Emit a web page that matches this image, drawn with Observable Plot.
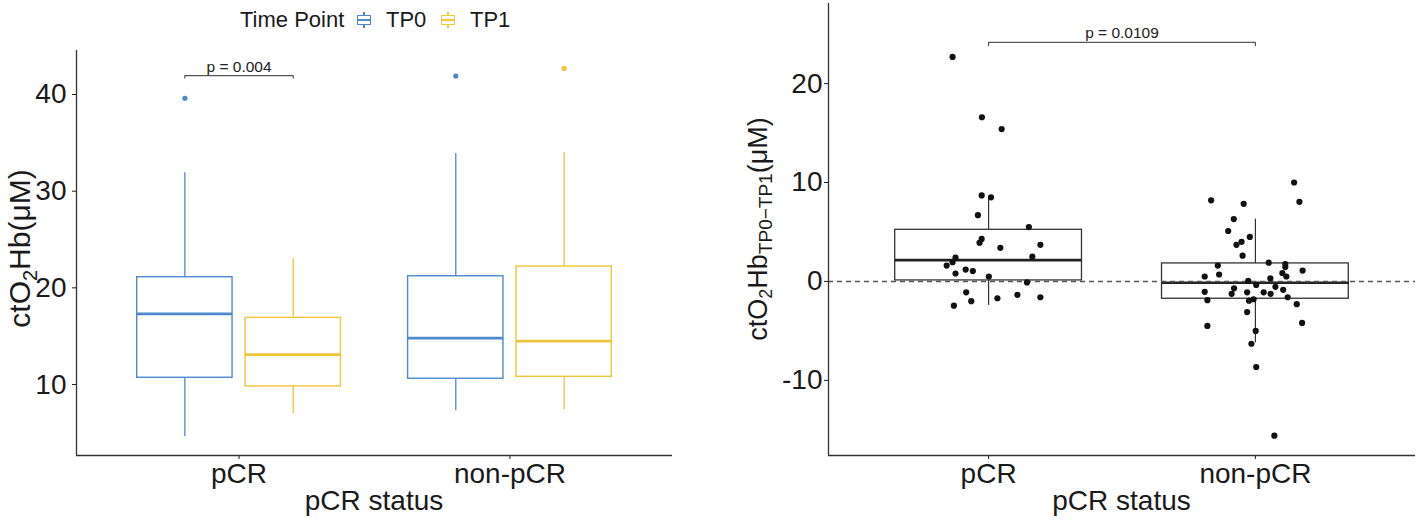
<!DOCTYPE html>
<html>
<head>
<meta charset="utf-8">
<script src="https://cdn.jsdelivr.net/npm/d3@7"></script>
<script src="https://cdn.jsdelivr.net/npm/@observablehq/plot@0.6"></script>
<style>
  html, body { margin: 0; padding: 0; background: #fff; }
  body { width: 1418px; height: 520px; overflow: hidden; display: flex; font-family: "Liberation Sans", Arial, sans-serif; }
  #left { width: 700px; height: 520px; position: relative; }
  #right { width: 718px; height: 520px; position: relative; }
  #legend { position: relative; height: 40px; width: 700px; font-size: 22px; color: #1a1a1a; }
  #legend .item { position: absolute; top: 0; height: 40px; display: flex; align-items: center; }
  .icon { position: relative; width: 14px; height: 16px; }
  .icon .wh { position: absolute; left: 6.3px; top: 0; width: 1.3px; height: 16px; }
  .icon .bx { position: absolute; left: 0; top: 3px; width: 11.6px; height: 7.6px; border: 1.2px solid; background: #fff; }
  .icon .md { position: absolute; left: 0; top: 7.3px; width: 14px; height: 1.4px; }
  svg text { font-family: "Liberation Sans", Arial, sans-serif; }
</style>
</head>
<body>
<div id="left"><div id="legend"></div></div>
<div id="right"></div>
<script>
// ---------------- data ----------------
const groups = ["pCR", "non-pCR"];
const timePoints = ["TP0", "TP1"];
const legendTitle = "Time Point";
const xTitle = "pCR status";

// Left panel: boxplot stats per (group, time point)
const boxGroup = ["pCR", "pCR", "non-pCR", "non-pCR"];
const boxTime  = ["TP0", "TP1", "TP0", "TP1"];
const boxLow   = [4.6, 7.0, 7.3, 7.4];
const boxQ1    = [10.7, 9.8, 10.6, 10.8];
const boxMed   = [17.3, 13.1, 14.8, 14.5];
const boxQ3    = [21.1, 16.9, 21.2, 22.2];
const boxHigh  = [31.9, 23.0, 33.9, 34.0];

const outGroup = ["pCR", "non-pCR", "non-pCR"];
const outTime  = ["TP0", "TP0", "TP1"];
const outValue = [39.6, 41.9, 42.7];

const leftTicks = [10, 20, 30, 40];
const leftP = "p = 0.004";
const leftBracketY = 41.96;
const leftBracketTip = 41.7;

// Right panel: difference TP0 - TP1
const diffGroup = ["pCR", "non-pCR"];
const diffLow   = [-2.42, -6.2];
const diffQ1    = [0.1, -1.75];
const diffMed   = [2.15, -0.13];
const diffQ3    = [5.22, 1.82];
const diffHigh  = [8.5, 6.3];

const pcrDelta  = [22.7, 16.6, 15.4, 8.7, 8.5, 6.7, 5.5, 4.3, 3.9, 3.7, 3.4, 2.5, 2.4, 1.95, 1.6, 1.2, 1.05, 0.8, 0.5, -0.1, -1.1, -1.35, -2.0, -1.6, -1.7, -2.45];
const pcrJitter = [-0.135, -0.025, 0.049, -0.026, 0.009, -0.040, 0.151, -0.026, -0.034, 0.194, 0.044, 0.164, -0.124, -0.135, -0.157, -0.086, -0.059, -0.124, 0.001, 0.144, -0.084, 0.108, -0.065, 0.194, 0.033, -0.130];

const nonDelta  = [10.0, 8.05, 8.2, 7.85, 6.3, 5.1, 4.5, 4.0, 3.7, 2.6, 1.9, 1.75, 1.6, 1.45, 1.1, 0.7, 0.85, 0.5, 0.5, 0.05, 0.3, -0.35, -0.55, -0.7, -1.05, -1.25, -1.1, -1.1, -1.25, -0.85, -1.6, -1.9, -1.95, -1.8, -2.3, -3.1, -4.5, -4.2, -5.0, -6.3, -8.65, -15.6];
const nonJitter = [0.145, 0.165, -0.166, -0.044, -0.081, -0.102, -0.021, -0.052, -0.071, -0.048, 0.050, 0.112, -0.141, 0.112, 0.177, -0.136, 0.101, 0.116, -0.190, -0.027, 0.056, 0.003, 0.075, -0.080, -0.190, -0.089, -0.031, 0.031, 0.057, 0.104, 0.121, -0.180, -0.024, -0.007, 0.155, -0.031, -0.180, 0.175, 0.001, -0.015, 0.003, 0.071];

const rightTicks = [-10, 0, 10, 20];
const rightP = "p = 0.0109";
const rightBracketY = 24.17;
const rightBracketTip = 23.84;

// ---------------- styles ----------------
const FONT = '"Liberation Sans", Arial, sans-serif';
const BLUE = "#4f89cd";
const YELLOW = "#efc53a";
const DODGE = 0.2, HALF_L = 0.176, HALF_R = 0.35;
const TICK_FS = "28px";

const gx = g => groups.indexOf(g) + 1;
const cx = d => gx(d.g) + (d.t === "TP0" ? -DODGE : DODGE);

const leftBoxes = boxGroup.map((g, i) => ({g, t: boxTime[i], low: boxLow[i], q1: boxQ1[i], med: boxMed[i], q3: boxQ3[i], high: boxHigh[i]}));
const leftOut = outGroup.map((g, i) => ({g, t: outTime[i], v: outValue[i]}));
const leftBracket = [
  {x: cx({g: "pCR", t: "TP0"}), y: leftBracketTip},
  {x: cx({g: "pCR", t: "TP0"}), y: leftBracketY},
  {x: cx({g: "pCR", t: "TP1"}), y: leftBracketY},
  {x: cx({g: "pCR", t: "TP1"}), y: leftBracketTip}
];

// ---------------- legend ----------------
const legend = document.getElementById("legend");
function addItem(left, html) {
  const s = document.createElement("div");
  s.className = "item"; s.style.left = left + "px"; s.innerHTML = html;
  legend.appendChild(s);
}
function icon(c) {
  return `<div class="icon"><div class="wh" style="background:${c}"></div><div class="bx" style="border-color:${c}"></div><div class="md" style="background:${c}"></div></div>`;
}
addItem(240, `<span>${legendTitle}</span>`);
addItem(357, icon(BLUE));
addItem(386, `<span>${timePoints[0]}</span>`);
addItem(441, icon(YELLOW));
addItem(470, `<span>${timePoints[1]}</span>`);

// ---------------- left plot ----------------
const L = {w: 700, h: 480, ml: 76, mr: 28, mt: 10, mb: 65};
const yDomL = [2.66, 44.55];
const leftPlot = Plot.plot({
  width: L.w, height: L.h,
  marginLeft: L.ml, marginRight: L.mr, marginTop: L.mt, marginBottom: L.mb,
  style: {fontFamily: FONT, fontSize: TICK_FS, color: "#1a1a1a", background: "white", overflow: "visible"},
  x: {type: "linear", domain: [0.4, 2.6], ticks: [1, 2], tickFormat: d => groups[d - 1], tickSize: 4, tickPadding: 4, label: null},
  y: {domain: yDomL, ticks: leftTicks, tickSize: 4, tickPadding: 6, label: null},
  color: {domain: timePoints, range: [BLUE, YELLOW]},
  marks: [
    Plot.ruleX(leftBoxes, {x: cx, y1: "q3", y2: "high", stroke: "t", strokeWidth: 1.3}),
    Plot.ruleX(leftBoxes, {x: cx, y1: "low", y2: "q1", stroke: "t", strokeWidth: 1.3}),
    Plot.rect(leftBoxes, {x1: d => cx(d) - HALF_L, x2: d => cx(d) + HALF_L, y1: "q1", y2: "q3", stroke: "t", fill: "white", strokeWidth: 1.4}),
    Plot.ruleY(leftBoxes, {y: "med", x1: d => cx(d) - HALF_L, x2: d => cx(d) + HALF_L, stroke: "t", strokeWidth: 2.7}),
    Plot.dot(leftOut, {x: cx, y: "v", fill: "t", r: 2.6, stroke: null}),
    Plot.line(leftBracket, {x: "x", y: "y", stroke: "#555", strokeWidth: 1.2}),
    Plot.text([leftP], {x: 1, y: leftBracketY, text: d => d, fontSize: 15.5, lineAnchor: "bottom", dy: -4, fill: "#222"}),
    Plot.ruleX([0.4], {stroke: "#333", strokeWidth: 1.3}),
    Plot.ruleY([yDomL[0]], {stroke: "#333", strokeWidth: 1.3})
  ]
});
document.getElementById("left").appendChild(leftPlot);
{
  const s = d3.select(leftPlot);
  const cy = (L.mt + L.h - L.mb) / 2 - 4;
  const t = s.append("text").attr("transform", `translate(30,${cy}) rotate(-90)`)
    .attr("text-anchor", "middle").attr("font-size", 30).attr("fill", "#1a1a1a");
  t.append("tspan").text("ctO");
  t.append("tspan").attr("font-size", 20).attr("dy", 7).text("2");
  t.append("tspan").attr("dy", -7).text("Hb(μM)");
  s.append("text").attr("x", (L.ml + L.w - L.mr) / 2).attr("y", 470)
    .attr("text-anchor", "middle").attr("font-size", 28).attr("fill", "#1a1a1a").text(xTitle);
}

// ---------------- right plot ----------------
const R = {w: 718, h: 520, ml: 128, mr: 3, mt: 3, mb: 65};
const yDomR = [-17.6, 28.1];
const rightBoxes = diffGroup.map((g, i) => ({g, low: diffLow[i], q1: diffQ1[i], med: diffMed[i], q3: diffQ3[i], high: diffHigh[i]}));
const rightPts = [
  ...pcrDelta.map((v, i) => ({g: "pCR", v, j: pcrJitter[i]})),
  ...nonDelta.map((v, i) => ({g: "non-pCR", v, j: nonJitter[i]}))
];
const rightBracket = [
  {x: gx("pCR"), y: rightBracketTip},
  {x: gx("pCR"), y: rightBracketY},
  {x: gx("non-pCR"), y: rightBracketY},
  {x: gx("non-pCR"), y: rightBracketTip}
];
const rightPlot = Plot.plot({
  width: R.w, height: R.h,
  marginLeft: R.ml, marginRight: R.mr, marginTop: R.mt, marginBottom: R.mb,
  style: {fontFamily: FONT, fontSize: TICK_FS, color: "#1a1a1a", background: "white", overflow: "visible"},
  x: {type: "linear", domain: [0.4, 2.6], ticks: [1, 2], tickFormat: d => groups[d - 1], tickSize: 4, tickPadding: 4, label: null},
  y: {domain: yDomR, ticks: rightTicks, tickFormat: d => String(d), tickSize: 4, tickPadding: 2, label: null},
  marks: [
    Plot.ruleX(rightBoxes, {x: d => gx(d.g), y1: "q3", y2: "high", stroke: "#333", strokeWidth: 1.2}),
    Plot.ruleX(rightBoxes, {x: d => gx(d.g), y1: "low", y2: "q1", stroke: "#333", strokeWidth: 1.2}),
    Plot.rect(rightBoxes, {x1: d => gx(d.g) - HALF_R, x2: d => gx(d.g) + HALF_R, y1: "q1", y2: "q3", stroke: "#333", fill: "white", strokeWidth: 1.3}),
    Plot.ruleY(rightBoxes, {y: "med", x1: d => gx(d.g) - HALF_R, x2: d => gx(d.g) + HALF_R, stroke: "#222", strokeWidth: 2.6}),
    Plot.ruleY([0], {stroke: "#555", strokeWidth: 1.5, strokeDasharray: "5,4"}),
    Plot.dot(rightPts, {x: d => gx(d.g) + d.j, y: "v", fill: "#111", r: 3.1, stroke: null}),
    Plot.line(rightBracket, {x: "x", y: "y", stroke: "#555", strokeWidth: 1.2}),
    Plot.text([rightP], {x: 1.5, y: rightBracketY, text: d => d, fontSize: 15.5, lineAnchor: "bottom", dy: -4, fill: "#222"}),
    Plot.ruleX([0.4], {stroke: "#333", strokeWidth: 1.3}),
    Plot.ruleY([yDomR[0]], {stroke: "#333", strokeWidth: 1.3})
  ]
});
document.getElementById("right").appendChild(rightPlot);
{
  const s = d3.select(rightPlot);
  const cy = (R.mt + R.h - R.mb) / 2;
  const t = s.append("text").attr("transform", `translate(67,${cy}) rotate(-90)`)
    .attr("text-anchor", "middle").attr("font-size", 27).attr("fill", "#1a1a1a");
  t.append("tspan").text("ctO");
  t.append("tspan").attr("font-size", 18).attr("dy", 5).text("2");
  t.append("tspan").attr("dy", -5).text("Hb");
  t.append("tspan").attr("font-size", 19).attr("dy", 5).text("TP0−TP1");
  t.append("tspan").attr("dy", -5).text("(μM)");
  s.append("text").attr("x", (R.ml + R.w - R.mr) / 2).attr("y", 510)
    .attr("text-anchor", "middle").attr("font-size", 28).attr("fill", "#1a1a1a").text(xTitle);
}
</script>
</body>
</html>
